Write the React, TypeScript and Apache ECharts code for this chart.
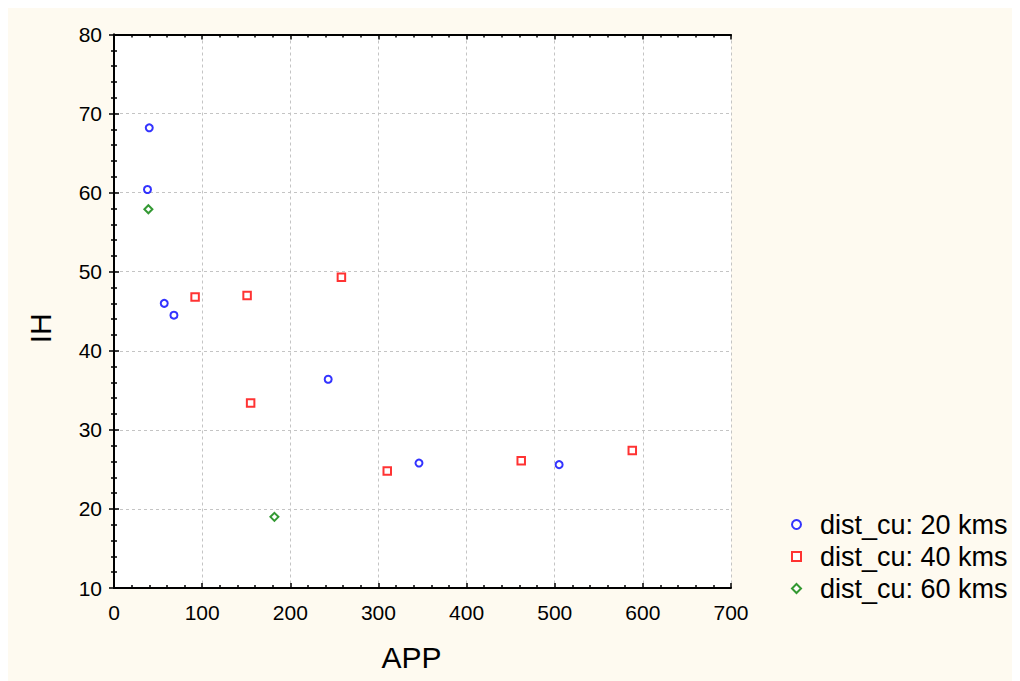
import React, { useEffect, useRef } from "react";
import * as echarts from "echarts";

const seriesNames = ["dist_cu: 20 kms", "dist_cu: 40 kms", "dist_cu: 60 kms"];
const s20X = [40, 38, 57, 68, 243, 346, 505];
const s20Y = [68.2, 60.4, 46.0, 44.5, 36.4, 25.8, 25.6];
const s40X = [92, 151, 258, 155, 310, 462, 588];
const s40Y = [46.8, 47.0, 49.3, 33.4, 24.8, 26.1, 27.4];
const s60X = [39, 182];
const s60Y = [57.9, 19.0];
const xAxisName = "APP";
const yAxisName = "IH";

const FONT = "'Liberation Sans', Arial, sans-serif";

function pairs(xs: number[], ys: number[]) {
  return xs.map((x, i) => [x, ys[i]]);
}

export default function App() {
  const ref = useRef<HTMLDivElement>(null);
  useEffect(() => {
    if (!ref.current) return;
    const chart = echarts.init(ref.current, undefined, { renderer: "svg" });
    const axisLine = { show: true, lineStyle: { color: "#000", width: 2 } };
    const tick = { show: true, inside: true, length: 5, lineStyle: { color: "#000", width: 1.5 } };
    const minor = { show: true, splitNumber: 5, length: 3, lineStyle: { color: "#000", width: 1.5 } };
    const split = { show: true, lineStyle: { color: "#c4c4c4", type: [3, 3] as any, width: 1 } };
    chart.setOption({
      animation: false,
      backgroundColor: "#fefaf0",
      textStyle: { fontFamily: FONT },
      grid: {
        left: 106,
        top: 26.5,
        right: 289,
        bottom: 93,
        show: true,
        backgroundColor: "#ffffff",
        borderWidth: 0,
      },
      legend: {
        orient: "vertical",
        left: 778,
        top: 498,
        itemWidth: 9,
        itemHeight: 9,
        itemGap: 5,
        data: seriesNames,
        textStyle: { fontFamily: FONT, fontSize: 27, color: "#000", padding: [0, 0, 0, 14] },
      },
      xAxis: [
        {
          type: "value",
          min: 0,
          max: 700,
          interval: 100,
          name: xAxisName,
          nameLocation: "middle",
          nameGap: 54,
          nameTextStyle: { fontFamily: FONT, fontSize: 30, color: "#000", padding: [0, 22, 0, 0] },
          axisLine,
          axisTick: tick,
          minorTick: minor,
          splitLine: split,
          axisLabel: { fontFamily: FONT, fontSize: 21, color: "#000", margin: 14 },
        },
        {
          type: "value",
          position: "top",
          min: 0,
          max: 700,
          interval: 100,
          axisLine,
          axisTick: tick,
          minorTick: minor,
          splitLine: { show: false },
          axisLabel: { show: false },
        },
      ],
      yAxis: [
        {
          type: "value",
          min: 10,
          max: 80,
          interval: 10,
          name: yAxisName,
          nameLocation: "middle",
          nameRotate: 90,
          nameGap: 59,
          nameTextStyle: { fontFamily: FONT, fontSize: 30, color: "#000", padding: [0, 34, 0, 0] },
          axisLine,
          axisTick: tick,
          minorTick: minor,
          splitLine: split,
          axisLabel: { fontFamily: FONT, fontSize: 21, color: "#000", margin: 12 },
        },
        {
          type: "value",
          position: "right",
          min: 10,
          max: 80,
          interval: 10,
          axisLine,
          axisTick: tick,
          minorTick: minor,
          splitLine: { show: false },
          axisLabel: { show: false },
        },
      ],
      series: [
        {
          name: seriesNames[0],
          type: "scatter",
          symbol: "emptyCircle",
          symbolSize: 7,
          itemStyle: { color: "#0000ff", borderColor: "#0000ff", borderWidth: 2.2 },
          data: pairs(s20X, s20Y),
        },
        {
          name: seriesNames[1],
          type: "scatter",
          symbol: "emptyRect",
          symbolSize: 7.5,
          itemStyle: { color: "#ff0000", borderColor: "#ff0000", borderWidth: 2.2 },
          data: pairs(s40X, s40Y),
        },
        {
          name: seriesNames[2],
          type: "scatter",
          symbol: "emptyDiamond",
          symbolSize: 8,
          itemStyle: { color: "#008000", borderColor: "#008000", borderWidth: 1.6 },
          data: pairs(s60X, s60Y),
        },
      ],
    });
    return () => chart.dispose();
  }, []);
  return <div ref={ref} style={{ width: 1012, height: 673 }} />;
}
